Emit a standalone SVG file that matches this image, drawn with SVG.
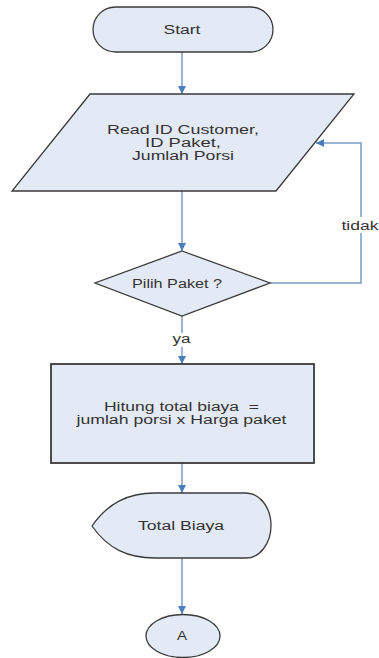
<svg xmlns="http://www.w3.org/2000/svg" width="379" height="658" viewBox="0 0 379 658">
  <style>
    .shape { fill: #e3eaf5; stroke: #3a3a3a; stroke-width: 1.3; }
    .lbl { font-family: "Liberation Sans", Arial, sans-serif; font-size: 12.5px; fill: #333333; text-anchor: middle; }
    .edge { fill: none; stroke: #7a9cc8; stroke-width: 1.5; }
    .bg { fill: #ffffff; }
  </style>
  <defs>
    <marker id="arrow" markerUnits="userSpaceOnUse" markerWidth="10" markerHeight="10" viewBox="0 0 10 10" refX="9" refY="5" orient="auto">
      <path d="M1,1 L9,5 L1,9 Z" fill="#4a7ebb"/>
    </marker>
  </defs>

  <rect width="379" height="658" fill="#ffffff"/>

  <!-- connectors -->
  <g id="connectors">
    <path class="edge" d="M182,52 V94" marker-end="url(#arrow)"/>
    <path class="edge" d="M182,191 V251" marker-end="url(#arrow)"/>
    <path class="edge" d="M182,316 V364" marker-end="url(#arrow)"/>
    <path class="edge" d="M270,283 H361 V143 H316" marker-end="url(#arrow)"/>
    <path class="edge" d="M182,463 V493" marker-end="url(#arrow)"/>
    <path class="edge" d="M182,558 V614" marker-end="url(#arrow)"/>
    <g id="edge-labels">
      <rect class="bg" x="171" y="333" width="22" height="14"/>
      <text class="lbl" x="181.5" y="343" textLength="18" lengthAdjust="spacingAndGlyphs">ya</text>
      <rect class="bg" x="341" y="217" width="38" height="16"/>
      <text class="lbl" x="360" y="230" textLength="37" lengthAdjust="spacingAndGlyphs">tidak</text>
    </g>
  </g>

  <!-- nodes -->
  <g id="start">
    <rect class="shape" x="93" y="7" width="180" height="45" rx="22.5" ry="22.5"/>
    <text class="lbl" x="182" y="34" textLength="37" lengthAdjust="spacingAndGlyphs">Start</text>
  </g>

  <g id="input">
    <polygon class="shape" points="90,94 354,94 276,191 12,191"/>
    <text class="lbl" x="183" y="133.5" textLength="152" lengthAdjust="spacingAndGlyphs">Read ID Customer,</text>
    <text class="lbl" x="183" y="146.5" textLength="76" lengthAdjust="spacingAndGlyphs">ID Paket,</text>
    <text class="lbl" x="183" y="159.5" textLength="102" lengthAdjust="spacingAndGlyphs">Jumlah Porsi</text>
  </g>

  <g id="decision">
    <polygon class="shape" points="182,251 270,283 182,316 95,283"/>
    <text class="lbl" x="177" y="287.5" textLength="90" lengthAdjust="spacingAndGlyphs">Pilih Paket ?</text>
  </g>

  <g id="process">
    <rect class="shape" x="51" y="364" width="263" height="99" style="stroke-width:1.8"/>
    <text class="lbl" x="181.5" y="411" textLength="155" lengthAdjust="spacingAndGlyphs" xml:space="preserve">Hitung total biaya  =</text>
    <text class="lbl" x="181.5" y="424" textLength="210" lengthAdjust="spacingAndGlyphs">jumlah porsi x Harga paket</text>
  </g>

  <g id="display">
    <path class="shape" d="M92,526 C108,503 128,493 155,493 L246,493 A25,32.5 0 0 1 246,558 L155,558 C128,558 108,549 92,526 Z"/>
    <text class="lbl" x="181" y="530" textLength="86" lengthAdjust="spacingAndGlyphs">Total Biaya</text>
  </g>

  <g id="connector-a">
    <ellipse class="shape" cx="183" cy="636" rx="37" ry="21.5"/>
    <text class="lbl" x="182" y="640" textLength="10" lengthAdjust="spacingAndGlyphs">A</text>
  </g>
</svg>
